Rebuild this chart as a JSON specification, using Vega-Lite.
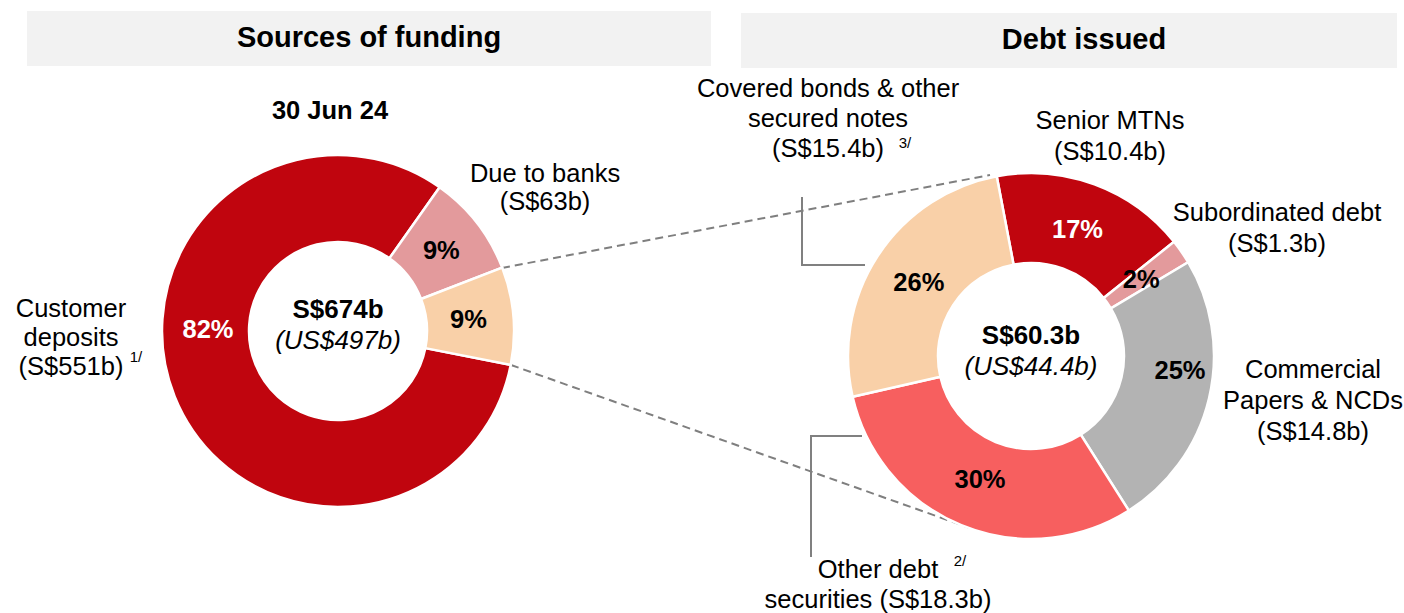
{
  "$schema": "https://vega.github.io/schema/vega-lite/v6.json",
  "width": 1404,
  "height": 613,
  "padding": 0,
  "autosize": {"type": "none"},
  "background": "#ffffff",
  "config": {"view": {"stroke": null}, "font": "Liberation Sans"},
  "datasets": {
    "funding": [
      {"i": 1, "name": "Customer deposits", "value": 551, "pct": "82%"},
      {"i": 2, "name": "Due to banks", "value": 63, "pct": "9%"},
      {"i": 3, "name": "Debt issued", "value": 60.3, "pct": "9%"}
    ],
    "debt": [
      {"i": 1, "name": "Senior MTNs", "value": 10.4, "pct": "17%"},
      {"i": 2, "name": "Subordinated debt", "value": 1.3, "pct": "2%"},
      {"i": 3, "name": "Commercial Papers & NCDs", "value": 14.8, "pct": "25%"},
      {"i": 4, "name": "Other debt securities", "value": 18.3, "pct": "30%"},
      {"i": 5, "name": "Covered bonds & other secured notes", "value": 15.4, "pct": "26%"}
    ]
  },
  "resolve": {"scale": {"theta": "independent"}},
  "layer": [
    {"data": {"values": [{}]}, "mark": {"type": "rect", "color": "#F2F2F2"},
     "encoding": {"x": {"datum": 27, "type": "quantitative", "scale": {"domain": [0, 1404], "nice": false, "zero": false}, "axis": null}, "x2": {"datum": 711},
                  "y": {"datum": 11, "type": "quantitative", "scale": {"domain": [0, 613], "nice": false, "zero": false, "reverse": true}, "axis": null}, "y2": {"datum": 66}}},
    {"data": {"values": [{}]}, "mark": {"type": "rect", "color": "#F2F2F2"},
     "encoding": {"x": {"datum": 741, "type": "quantitative", "scale": {"domain": [0, 1404], "nice": false, "zero": false}, "axis": null}, "x2": {"datum": 1397},
                  "y": {"datum": 13, "type": "quantitative", "scale": {"domain": [0, 613], "nice": false, "zero": false, "reverse": true}, "axis": null}, "y2": {"datum": 68}}},
    {"data": {"values": [{}]}, "mark": {"type": "text", "fontSize": 29, "fontWeight": "bold", "align": "center", "baseline": "alphabetic", "color": "#000000"},
     "encoding": {"x": {"datum": 369, "type": "quantitative", "scale": {"domain": [0, 1404], "nice": false, "zero": false}, "axis": null},
                  "y": {"datum": 47, "type": "quantitative", "scale": {"domain": [0, 613], "nice": false, "zero": false, "reverse": true}, "axis": null},
                  "text": {"value": "Sources of funding"}}},
    {"data": {"values": [{}]}, "mark": {"type": "text", "fontSize": 29, "fontWeight": "bold", "align": "center", "baseline": "alphabetic", "color": "#000000"},
     "encoding": {"x": {"datum": 1084, "type": "quantitative", "scale": {"domain": [0, 1404], "nice": false, "zero": false}, "axis": null},
                  "y": {"datum": 49, "type": "quantitative", "scale": {"domain": [0, 613], "nice": false, "zero": false, "reverse": true}, "axis": null},
                  "text": {"value": "Debt issued"}}},
    {"data": {"values": [{}]}, "mark": {"type": "rule", "color": "#7F7F7F", "strokeWidth": 2, "strokeDash": [8, 5]},
     "encoding": {"x": {"datum": 502, "type": "quantitative", "scale": {"domain": [0, 1404], "nice": false, "zero": false}, "axis": null}, "x2": {"datum": 990},
                  "y": {"datum": 268, "type": "quantitative", "scale": {"domain": [0, 613], "nice": false, "zero": false, "reverse": true}, "axis": null}, "y2": {"datum": 175}}},
    {"data": {"values": [{}]}, "mark": {"type": "rule", "color": "#7F7F7F", "strokeWidth": 2, "strokeDash": [8, 5]},
     "encoding": {"x": {"datum": 511, "type": "quantitative", "scale": {"domain": [0, 1404], "nice": false, "zero": false}, "axis": null}, "x2": {"datum": 970},
                  "y": {"datum": 365, "type": "quantitative", "scale": {"domain": [0, 613], "nice": false, "zero": false, "reverse": true}, "axis": null}, "y2": {"datum": 528}}},
    {"data": {"values": [{}]}, "mark": {"type": "rule", "color": "#808080", "strokeWidth": 2},
     "encoding": {"x": {"datum": 802, "type": "quantitative", "scale": {"domain": [0, 1404], "nice": false, "zero": false}, "axis": null}, "x2": {"datum": 802},
                  "y": {"datum": 197, "type": "quantitative", "scale": {"domain": [0, 613], "nice": false, "zero": false, "reverse": true}, "axis": null}, "y2": {"datum": 266}}},
    {"data": {"values": [{}]}, "mark": {"type": "rule", "color": "#808080", "strokeWidth": 2},
     "encoding": {"x": {"datum": 801, "type": "quantitative", "scale": {"domain": [0, 1404], "nice": false, "zero": false}, "axis": null}, "x2": {"datum": 865},
                  "y": {"datum": 265, "type": "quantitative", "scale": {"domain": [0, 613], "nice": false, "zero": false, "reverse": true}, "axis": null}, "y2": {"datum": 265}}},
    {"data": {"values": [{}]}, "mark": {"type": "rule", "color": "#808080", "strokeWidth": 2},
     "encoding": {"x": {"datum": 810, "type": "quantitative", "scale": {"domain": [0, 1404], "nice": false, "zero": false}, "axis": null}, "x2": {"datum": 862},
                  "y": {"datum": 436, "type": "quantitative", "scale": {"domain": [0, 613], "nice": false, "zero": false, "reverse": true}, "axis": null}, "y2": {"datum": 436}}},
    {"data": {"values": [{}]}, "mark": {"type": "rule", "color": "#808080", "strokeWidth": 2},
     "encoding": {"x": {"datum": 811, "type": "quantitative", "scale": {"domain": [0, 1404], "nice": false, "zero": false}, "axis": null}, "x2": {"datum": 811},
                  "y": {"datum": 435, "type": "quantitative", "scale": {"domain": [0, 613], "nice": false, "zero": false, "reverse": true}, "axis": null}, "y2": {"datum": 557}}},
    {
      "data": {"name": "funding"},
      "encoding": {
        "x": {"datum": 338, "type": "quantitative", "scale": {"domain": [0, 1404], "nice": false, "zero": false}, "axis": null},
        "y": {"datum": 331, "type": "quantitative", "scale": {"domain": [0, 613], "nice": false, "zero": false, "reverse": true}, "axis": null},
        "theta": {"field": "value", "type": "quantitative", "stack": true, "scale": {"range": [1.7645, 8.0477], "nice": false}},
        "order": {"field": "i", "type": "quantitative"}
      },
      "layer": [
        {"mark": {"type": "arc", "outerRadius": 176, "innerRadius": 89, "stroke": "#ffffff", "strokeWidth": 2.5},
         "encoding": {"color": {"field": "name", "type": "nominal", "legend": null,
           "scale": {"domain": ["Customer deposits", "Due to banks", "Debt issued", "Senior MTNs", "Subordinated debt", "Commercial Papers & NCDs", "Other debt securities", "Covered bonds & other secured notes"],
                     "range": ["#C0050E", "#E39A9C", "#F9D0A8", "#C0050E", "#E39A9C", "#B3B3B3", "#F75F5F", "#F9D0A8"]}}}},
        {"mark": {"type": "text", "radius": 131, "fontSize": 25.5, "fontWeight": "bold", "align": "center", "baseline": "middle", "color": "#000000"},
         "encoding": {"text": {"field": "pct", "type": "nominal", "condition": {"test": "datum.i === 1", "value": ""}}}}
      ]
    },
    {
      "data": {"name": "debt"},
      "encoding": {
        "x": {"datum": 1031, "type": "quantitative", "scale": {"domain": [0, 1404], "nice": false, "zero": false}, "axis": null},
        "y": {"datum": 356, "type": "quantitative", "scale": {"domain": [0, 613], "nice": false, "zero": false, "reverse": true}, "axis": null},
        "theta": {"field": "value", "type": "quantitative", "stack": true, "scale": {"range": [-0.1885, 6.0947], "nice": false}},
        "order": {"field": "i", "type": "quantitative"}
      },
      "layer": [
        {"mark": {"type": "arc", "outerRadius": 183, "innerRadius": 93, "stroke": "#ffffff", "strokeWidth": 2.5},
         "encoding": {"color": {"field": "name", "type": "nominal", "legend": null,
           "scale": {"domain": ["Customer deposits", "Due to banks", "Debt issued", "Senior MTNs", "Subordinated debt", "Commercial Papers & NCDs", "Other debt securities", "Covered bonds & other secured notes"],
                     "range": ["#C0050E", "#E39A9C", "#F9D0A8", "#C0050E", "#E39A9C", "#B3B3B3", "#F75F5F", "#F9D0A8"]}}}},
        {"mark": {"type": "text", "radius": 134, "fontSize": 25.5, "fontWeight": "bold", "align": "center", "baseline": "middle"},
         "encoding": {"text": {"field": "pct", "type": "nominal", "condition": {"test": "datum.i === 3", "value": ""}},
                      "color": {"condition": {"test": "datum.i === 1", "value": "#ffffff"}, "value": "#000000"}}}
      ]
    },
    {"data": {"values": [{}]}, "mark": {"type": "text", "fontSize": 25.5, "fontWeight": "bold", "align": "center", "baseline": "middle", "color": "#ffffff"},
     "encoding": {"x": {"datum": 208, "type": "quantitative", "scale": {"domain": [0, 1404], "nice": false, "zero": false}, "axis": null},
                  "y": {"datum": 330, "type": "quantitative", "scale": {"domain": [0, 613], "nice": false, "zero": false, "reverse": true}, "axis": null},
                  "text": {"value": "82%"}}},
    {"data": {"values": [{}]}, "mark": {"type": "text", "fontSize": 25.5, "fontWeight": "bold", "align": "center", "baseline": "middle", "color": "#000000"},
     "encoding": {"x": {"datum": 1180, "type": "quantitative", "scale": {"domain": [0, 1404], "nice": false, "zero": false}, "axis": null},
                  "y": {"datum": 371, "type": "quantitative", "scale": {"domain": [0, 613], "nice": false, "zero": false, "reverse": true}, "axis": null},
                  "text": {"value": "25%"}}},
    {"data": {"values": [{}]}, "mark": {"type": "text", "fontSize": 25.5, "fontWeight": "bold", "align": "center", "baseline": "alphabetic", "color": "#000000"},
     "encoding": {"x": {"datum": 330, "type": "quantitative", "scale": {"domain": [0, 1404], "nice": false, "zero": false}, "axis": null},
                  "y": {"datum": 119, "type": "quantitative", "scale": {"domain": [0, 613], "nice": false, "zero": false, "reverse": true}, "axis": null},
                  "text": {"value": "30 Jun 24"}}},
    {"data": {"values": [{}]}, "mark": {"type": "text", "fontSize": 26, "fontWeight": "bold", "align": "center", "baseline": "alphabetic", "color": "#000000"},
     "encoding": {"x": {"datum": 338, "type": "quantitative", "scale": {"domain": [0, 1404], "nice": false, "zero": false}, "axis": null},
                  "y": {"datum": 318, "type": "quantitative", "scale": {"domain": [0, 613], "nice": false, "zero": false, "reverse": true}, "axis": null},
                  "text": {"value": "S$674b"}}},
    {"data": {"values": [{}]}, "mark": {"type": "text", "fontSize": 26, "fontStyle": "italic", "align": "center", "baseline": "alphabetic", "color": "#000000"},
     "encoding": {"x": {"datum": 338, "type": "quantitative", "scale": {"domain": [0, 1404], "nice": false, "zero": false}, "axis": null},
                  "y": {"datum": 349, "type": "quantitative", "scale": {"domain": [0, 613], "nice": false, "zero": false, "reverse": true}, "axis": null},
                  "text": {"value": "(US$497b)"}}},
    {"data": {"values": [{}]}, "mark": {"type": "text", "fontSize": 26, "fontWeight": "bold", "align": "center", "baseline": "alphabetic", "color": "#000000"},
     "encoding": {"x": {"datum": 1031, "type": "quantitative", "scale": {"domain": [0, 1404], "nice": false, "zero": false}, "axis": null},
                  "y": {"datum": 344, "type": "quantitative", "scale": {"domain": [0, 613], "nice": false, "zero": false, "reverse": true}, "axis": null},
                  "text": {"value": "S$60.3b"}}},
    {"data": {"values": [{}]}, "mark": {"type": "text", "fontSize": 26, "fontStyle": "italic", "align": "center", "baseline": "alphabetic", "color": "#000000"},
     "encoding": {"x": {"datum": 1031, "type": "quantitative", "scale": {"domain": [0, 1404], "nice": false, "zero": false}, "axis": null},
                  "y": {"datum": 375, "type": "quantitative", "scale": {"domain": [0, 613], "nice": false, "zero": false, "reverse": true}, "axis": null},
                  "text": {"value": "(US$44.4b)"}}},
    {"data": {"values": [{}]}, "mark": {"type": "text", "fontSize": 25.5, "align": "center", "baseline": "alphabetic", "lineBreak": "\n", "lineHeight": 28, "color": "#000000"},
     "encoding": {"x": {"datum": 545, "type": "quantitative", "scale": {"domain": [0, 1404], "nice": false, "zero": false}, "axis": null},
                  "y": {"datum": 182, "type": "quantitative", "scale": {"domain": [0, 613], "nice": false, "zero": false, "reverse": true}, "axis": null},
                  "text": {"value": "Due to banks\n(S$63b)"}}},
    {"data": {"values": [{}]}, "mark": {"type": "text", "fontSize": 25.5, "align": "center", "baseline": "alphabetic", "lineBreak": "\n", "lineHeight": 29, "color": "#000000"},
     "encoding": {"x": {"datum": 71, "type": "quantitative", "scale": {"domain": [0, 1404], "nice": false, "zero": false}, "axis": null},
                  "y": {"datum": 317, "type": "quantitative", "scale": {"domain": [0, 613], "nice": false, "zero": false, "reverse": true}, "axis": null},
                  "text": {"value": "Customer\ndeposits\n(S$551b)"}}},
    {"data": {"values": [{}]}, "mark": {"type": "text", "fontSize": 15, "align": "center", "baseline": "alphabetic", "color": "#000000"},
     "encoding": {"x": {"datum": 136, "type": "quantitative", "scale": {"domain": [0, 1404], "nice": false, "zero": false}, "axis": null},
                  "y": {"datum": 362, "type": "quantitative", "scale": {"domain": [0, 613], "nice": false, "zero": false, "reverse": true}, "axis": null},
                  "text": {"value": "1/"}}},
    {"data": {"values": [{}]}, "mark": {"type": "text", "fontSize": 25.5, "align": "center", "baseline": "alphabetic", "lineBreak": "\n", "lineHeight": 30, "color": "#000000"},
     "encoding": {"x": {"datum": 828, "type": "quantitative", "scale": {"domain": [0, 1404], "nice": false, "zero": false}, "axis": null},
                  "y": {"datum": 97, "type": "quantitative", "scale": {"domain": [0, 613], "nice": false, "zero": false, "reverse": true}, "axis": null},
                  "text": {"value": "Covered bonds & other\nsecured notes\n(S$15.4b)"}}},
    {"data": {"values": [{}]}, "mark": {"type": "text", "fontSize": 15, "align": "center", "baseline": "alphabetic", "color": "#000000"},
     "encoding": {"x": {"datum": 905, "type": "quantitative", "scale": {"domain": [0, 1404], "nice": false, "zero": false}, "axis": null},
                  "y": {"datum": 148, "type": "quantitative", "scale": {"domain": [0, 613], "nice": false, "zero": false, "reverse": true}, "axis": null},
                  "text": {"value": "3/"}}},
    {"data": {"values": [{}]}, "mark": {"type": "text", "fontSize": 25.5, "align": "center", "baseline": "alphabetic", "lineBreak": "\n", "lineHeight": 31, "color": "#000000"},
     "encoding": {"x": {"datum": 1110, "type": "quantitative", "scale": {"domain": [0, 1404], "nice": false, "zero": false}, "axis": null},
                  "y": {"datum": 129, "type": "quantitative", "scale": {"domain": [0, 613], "nice": false, "zero": false, "reverse": true}, "axis": null},
                  "text": {"value": "Senior MTNs\n(S$10.4b)"}}},
    {"data": {"values": [{}]}, "mark": {"type": "text", "fontSize": 25.5, "align": "center", "baseline": "alphabetic", "lineBreak": "\n", "lineHeight": 31, "color": "#000000"},
     "encoding": {"x": {"datum": 1277, "type": "quantitative", "scale": {"domain": [0, 1404], "nice": false, "zero": false}, "axis": null},
                  "y": {"datum": 221, "type": "quantitative", "scale": {"domain": [0, 613], "nice": false, "zero": false, "reverse": true}, "axis": null},
                  "text": {"value": "Subordinated debt\n(S$1.3b)"}}},
    {"data": {"values": [{}]}, "mark": {"type": "text", "fontSize": 25.5, "align": "center", "baseline": "alphabetic", "lineBreak": "\n", "lineHeight": 31, "color": "#000000"},
     "encoding": {"x": {"datum": 1313, "type": "quantitative", "scale": {"domain": [0, 1404], "nice": false, "zero": false}, "axis": null},
                  "y": {"datum": 378, "type": "quantitative", "scale": {"domain": [0, 613], "nice": false, "zero": false, "reverse": true}, "axis": null},
                  "text": {"value": "Commercial\nPapers & NCDs\n(S$14.8b)"}}},
    {"data": {"values": [{}]}, "mark": {"type": "text", "fontSize": 25.5, "align": "center", "baseline": "alphabetic", "lineBreak": "\n", "lineHeight": 30, "color": "#000000"},
     "encoding": {"x": {"datum": 878, "type": "quantitative", "scale": {"domain": [0, 1404], "nice": false, "zero": false}, "axis": null},
                  "y": {"datum": 578, "type": "quantitative", "scale": {"domain": [0, 613], "nice": false, "zero": false, "reverse": true}, "axis": null},
                  "text": {"value": "Other debt\nsecurities (S$18.3b)"}}},
    {"data": {"values": [{}]}, "mark": {"type": "text", "fontSize": 15, "align": "center", "baseline": "alphabetic", "color": "#000000"},
     "encoding": {"x": {"datum": 960, "type": "quantitative", "scale": {"domain": [0, 1404], "nice": false, "zero": false}, "axis": null},
                  "y": {"datum": 566, "type": "quantitative", "scale": {"domain": [0, 613], "nice": false, "zero": false, "reverse": true}, "axis": null},
                  "text": {"value": "2/"}}}
  ]
}
